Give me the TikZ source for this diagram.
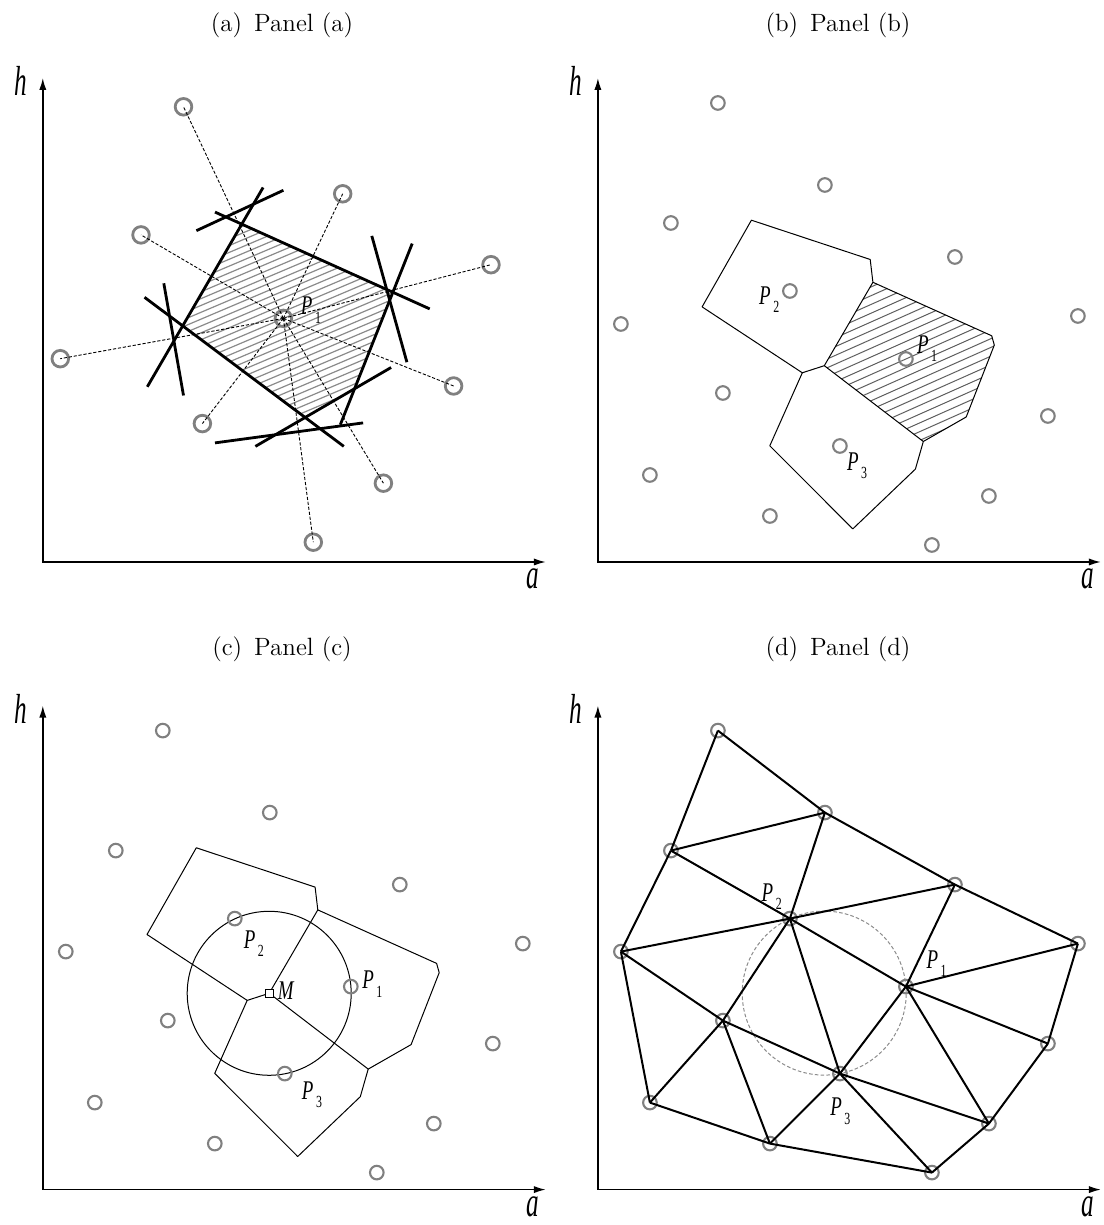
\documentclass[tikz,border=0pt]{standalone}
\usepackage{fontspec}
\usepackage{graphicx}
\usetikzlibrary{arrows.meta}
\newfontfamily\tmsfont{Liberation Serif}
\definecolor{SiteGray}{HTML}{808080}
\definecolor{HatchGrayA}{HTML}{8A8A8A}
\definecolor{HatchGrayB}{HTML}{5E5E5E}
\definecolor{CircGray}{HTML}{8C8C8C}
% condensed italic labels
\newcommand{\ptlbl}[1]{\scalebox{0.7}[1]{\tmsfont\fontsize{13.5}{13.5}\selectfont\itshape P\kern1.8pt\raisebox{-4.2pt}{\fontsize{8.5}{8.5}\selectfont\upshape #1}}}
\newcommand{\axlbl}[1]{\scalebox{0.6}[1]{\tmsfont\fontsize{21}{21}\selectfont\itshape #1}}
% sample points shared by panels (b), (c), (d)
\newcommand{\sitelist}{n1/120/459, n2/227/377, n3/73/339, n4/357/305, P2/192/271, n5/23/238, n6/480/246, P1/308/203, n7/125/169, n8/450/146, P3/242/116, n9/52/87, n10/391/66, n11/172/46, n12/334/17}
% Voronoi vertices round P1, P2, P3
\newcommand{\vertlist}{q1/153.5/341.8, q2/272.3/302.5, q3/275/279.7, q4/393.8/226.2, q5/396.4/216.9, q6/368.3/145, q7/325.4/120.5, m/226.4/196.3, q9/204.4/189.2, q10/104.2/255.1, q11/317.5/92.9, q12/254.9/33.1, q13/171.9/116.2}
\tikzset{
    % panel caption
    paneltitle/.style={
        font=\fontsize{12.5}{14}\selectfont,
        inner sep=0pt
    },
    % coordinate axes
    axis/.style={
        {Latex[length=6pt,width=3.6pt]}-{Latex[length=6pt,width=3.6pt]},
        line width=0.75pt
    },
    % sample point
    site/.style={
        circle,
        draw=SiteGray,
        line width=1.05pt,
        minimum size=6.8pt,
        inner sep=0pt
    },
    % sample point, panel (a)
    bigsite/.style={
        site,
        line width=1.4pt,
        minimum size=8.3pt
    },
    % link from P1 to a neighbour
    ray/.style={
        line width=0.45pt,
        dash pattern=on 1.6pt off 0.9pt
    },
    % perpendicular bisector piece
    bisector/.style={
        line width=1.4pt
    },
    % hatching
    hatchA/.style={
        draw=HatchGrayA,
        line width=0.6pt
    },
    hatchB/.style={
        draw=HatchGrayB,
        line width=0.5pt
    },
    % Voronoi cell border
    cell/.style={
        line width=0.5pt,
        line join=round
    },
    % Delaunay edge
    edge/.style={
        line width=1pt
    },
    % vertex mark
    mark box/.style={
        draw,
        rectangle,
        line width=0.5pt,
        minimum size=4pt,
        inner sep=0pt
    },
    lbl/.style={
        inner sep=0pt
    }
}
\begin{document}
\begin{tikzpicture}[x=0.5pt,y=0.5pt]
\useasboundingbox (0,0) rectangle (1103,1225);

\node[paneltitle] (ta) at (282,1200) {(a)\hspace{6pt}Panel (a)};
\node[paneltitle] (tb) at (838,1200) {(b)\hspace{6pt}Panel (b)};
\node[paneltitle] (tc) at (282,576) {(c)\hspace{6pt}Panel (c)};
\node[paneltitle] (td) at (838,576) {(d)\hspace{6pt}Panel (d)};

% ---------- panel (a)
\begin{scope}[shift={(42.8,663)}]
    \coordinate (a-o) at (0,0);
    \coordinate (a-xe) at (503,0);
    \coordinate (a-ye) at (0,484);
    \draw[axis] (a-ye) -- (a-o) -- (a-xe);
    \node[lbl] (a-h) at (-22,481) {\axlbl{h}};
    \node[lbl] (a-a) at (490,-17) {\axlbl{a}};

    % hatched cell of P1
    \begin{scope}
        \clip (199,337.8) -- (350.1,269.7) -- (311.8,173.3) -- (262.3,144.5) -- (139.9,236.1) -- cycle;
        \begin{scope}[shift={(240.6,243.6)},rotate=23]
            \foreach \k in {-30,...,30}
                \draw[hatchA] (-260,\k*6.3) -- (260,\k*6.3);
        \end{scope}
    \end{scope}

    \node[bigsite] (a-P1) at (240.6,243.6) {};
    \foreach \n/\x/\y in {c1/140.7/455.2, c2/299.9/368.2, c3/98.2/327.1, c4/448.2/297.3, c5/17.5/203.3, c6/410.8/176, c7/159.6/138.4, c8/340.6/78.8, c9/270.5/19.8}
        \node[bigsite] (a-\n) at (\x,\y) {};
    \foreach \n in {c1,c2,c3,c4,c5,c6,c7,c8,c9}
        \draw[ray] (a-P1.center) -- (a-\n.center);

    \draw[bisector] (172.2,349.9) -- (386.9,253.1);
    \draw[bisector] (220.3,374.5) -- (104.5,175.2);
    \draw[bisector] (153.6,331.3) -- (240.6,371.7);
    \draw[bisector] (121,278.7) -- (140.7,166.5);
    \draw[bisector] (101.7,264.7) -- (301,115.6);
    \draw[bisector] (329,326.1) -- (364.1,199.8);
    \draw[bisector] (369.4,318.4) -- (297.5,137.3);
    \draw[bisector] (172.2,119.1) -- (320.3,139.1);
    \draw[bisector] (212.6,115.6) -- (348.3,194.5);

    \node[lbl] (a-lp1) at (268.2,252) {\ptlbl{1}};
\end{scope}

% ---------- panel (b)
\begin{scope}[shift={(597.9,663)}]
    \coordinate (b-o) at (0,0);
    \coordinate (b-xe) at (503,0);
    \coordinate (b-ye) at (0,484);
    \draw[axis] (b-ye) -- (b-o) -- (b-xe);
    \node[lbl] (b-h) at (-22,481) {\axlbl{h}};
    \node[lbl] (b-a) at (490,-17) {\axlbl{a}};

    \foreach \n/\x/\y in \vertlist
        \coordinate (b-\n) at (\x,\y);

    % hatched cell of P1
    \begin{scope}
        \clip (b-q3) -- (b-q4) -- (b-q5) -- (b-q6) -- (b-q7) -- (b-m) -- cycle;
        \begin{scope}[shift={(308,203)},rotate=24]
            \foreach \k in {-20,...,20}
                \draw[hatchB] (-200,\k*8) -- (200,\k*8);
        \end{scope}
    \end{scope}

    \draw[cell] (b-q1) -- (b-q2) -- (b-q3) -- (b-m) -- (b-q9) -- (b-q10) -- cycle;
    \draw[cell] (b-q3) -- (b-q4) -- (b-q5) -- (b-q6) -- (b-q7) -- (b-m);
    \draw[cell] (b-q7) -- (b-q11) -- (b-q12) -- (b-q13) -- (b-q9);

    \foreach \n/\x/\y in \sitelist
        \node[site] (b-\n) at (\x,\y) {};

    \node[lbl] (b-lp2) at (171.3,262.4) {\ptlbl{2}};
    \node[lbl] (b-lp1) at (329.1,213.3) {\ptlbl{1}};
    \node[lbl] (b-lp3) at (259.1,96) {\ptlbl{3}};
\end{scope}

% ---------- panel (c)
\begin{scope}[shift={(42.8,35.4)}]
    \coordinate (c-o) at (0,0);
    \coordinate (c-xe) at (503,0);
    \coordinate (c-ye) at (0,484);
    \draw[axis] (c-ye) -- (c-o) -- (c-xe);
    \node[lbl] (c-h) at (-22,481) {\axlbl{h}};
    \node[lbl] (c-a) at (490,-17) {\axlbl{a}};

    \foreach \n/\x/\y in \vertlist
        \coordinate (c-\n) at (\x,\y);

    \draw[cell] (c-q1) -- (c-q2) -- (c-q3) -- (c-m) -- (c-q9) -- (c-q10) -- cycle;
    \draw[cell] (c-q3) -- (c-q4) -- (c-q5) -- (c-q6) -- (c-q7) -- (c-m);
    \draw[cell] (c-q7) -- (c-q11) -- (c-q12) -- (c-q13) -- (c-q9);

    % empty circle round M
    \draw[line width=0.5pt] (c-m) circle[radius=82];

    \foreach \n/\x/\y in \sitelist
        \node[site] (c-\n) at (\x,\y) {};

    \node[mark box,fill=white] (c-mbox) at (c-m) {};
    \node[lbl] (c-lm) at (243,199) {\scalebox{0.7}[1]{\tmsfont\fontsize{13.5}{13.5}\selectfont\itshape M}};
    \node[lbl] (c-lp2) at (211,245.7) {\ptlbl{2}};
    \node[lbl] (c-lp1) at (329.5,205.4) {\ptlbl{1}};
    \node[lbl] (c-lp3) at (269.2,94.9) {\ptlbl{3}};
\end{scope}

% ---------- panel (d)
\begin{scope}[shift={(597.9,35.4)}]
    \coordinate (d-o) at (0,0);
    \coordinate (d-xe) at (503,0);
    \coordinate (d-ye) at (0,484);
    \draw[axis] (d-ye) -- (d-o) -- (d-xe);
    \node[lbl] (d-h) at (-22,481) {\axlbl{h}};
    \node[lbl] (d-a) at (490,-17) {\axlbl{a}};

    \foreach \n/\x/\y in \sitelist
        \node[site] (d-\n) at (\x,\y) {};

    % circumcircle of P1 P2 P3
    \coordinate (d-cc) at (226.3,196.5);
    \draw[draw=CircGray,line width=0.5pt,dash pattern=on 1.8pt off 1.1pt] (d-cc) circle[radius=82];

    \foreach \u/\v in {n1/n2, n1/n3, n2/n3, n2/P2, n2/n4, n3/P2, n3/n5, n5/P2, P2/n4, n4/P1, P2/P1, n4/n6, P1/n6, n6/n8, P1/n8, P2/n7, P2/P3, n5/n7, n7/P3, n5/n9, n9/n7, n7/n11, n9/n11, n11/P3, n11/n12, P3/n12, P3/n10, P1/P3, P1/n10, n10/n12, n8/n10}
        \draw[edge] (d-\u.center) -- (d-\v.center);

    \node[lbl] (d-lp2) at (173.8,293.1) {\ptlbl{2}};
    \node[lbl] (d-lp1) at (338.7,225.8) {\ptlbl{1}};
    \node[lbl] (d-lp3) at (242.5,78.4) {\ptlbl{3}};
\end{scope}
\end{tikzpicture}
\end{document}
